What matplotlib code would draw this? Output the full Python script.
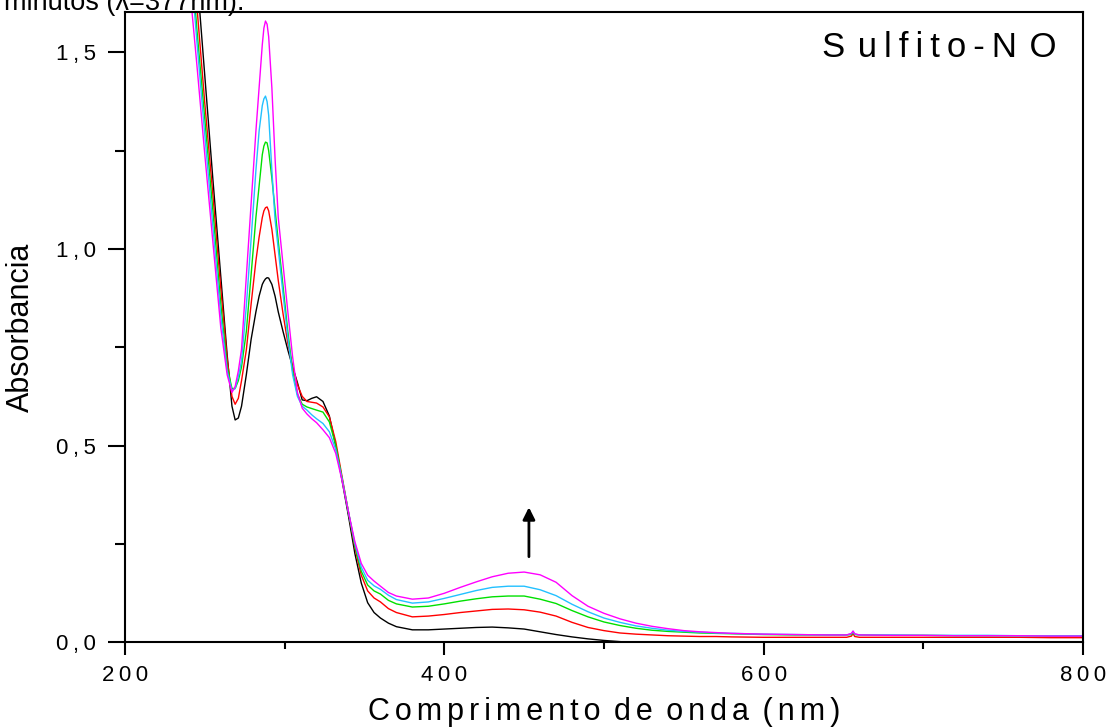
import matplotlib
matplotlib.use("Agg")
import matplotlib.pyplot as plt
import numpy as np

plt.rcParams['font.family'] = ['Liberation Sans', 'DejaVu Sans']

# thin / hair spaces imitate the letter spacing of the original
ts = "\u2009"
hs = "\u200a"

# Wavelength grid (nm)
wavelength = [240, 245, 250, 255, 260, 264, 267, 269, 271, 273,
              276, 279, 282, 284, 286, 287, 288, 289, 290, 292, 294, 296,
              299, 302, 305, 308, 311, 314, 317, 320, 324, 328,
              332, 336, 340, 344, 348, 352, 356, 360, 365, 370,
              380, 390, 400, 410, 420, 430, 440, 450, 460, 470,
              480, 490, 500, 510, 520, 530, 540, 550, 560, 570,
              580, 600, 620, 640, 652, 655, 656, 657, 660, 680,
              700, 720, 740, 760, 780, 800]

abs_black = [1.97, 1.70, 1.44, 1.18, 0.93, 0.73, 0.60, 0.565, 0.57, 0.60,
             0.68, 0.77, 0.84, 0.88, 0.91, 0.918, 0.924, 0.927, 0.926, 0.91, 0.88, 0.84,
             0.79, 0.743, 0.70, 0.66, 0.616, 0.614, 0.62, 0.624, 0.612, 0.575,
             0.50, 0.41, 0.32, 0.225, 0.15, 0.10, 0.075, 0.061, 0.048, 0.039,
             0.031, 0.031, 0.033, 0.035, 0.037, 0.038, 0.036, 0.033, 0.026, 0.019,
             0.013, 0.008, 0.004, 0.001, -0.002, -0.003, -0.003, -0.003, -0.003, -0.003,
             -0.003, -0.003, -0.003, -0.003, -0.003, -0.003, -0.003, -0.003, -0.003, -0.003,
             -0.003, -0.003, -0.003, -0.003, -0.003, -0.003]

abs_red = [1.88, 1.62, 1.37, 1.14, 0.90, 0.72, 0.625, 0.605, 0.62, 0.665,
           0.743, 0.86, 0.97, 1.03, 1.08, 1.097, 1.105, 1.107, 1.097, 1.05, 0.985, 0.92,
           0.835, 0.76, 0.70, 0.655, 0.625, 0.612, 0.61, 0.608, 0.598, 0.573,
           0.51, 0.42, 0.33, 0.24, 0.17, 0.13, 0.112, 0.102, 0.085, 0.075,
           0.064, 0.066, 0.070, 0.075, 0.079, 0.083, 0.084, 0.082, 0.076, 0.066,
           0.050, 0.037, 0.029, 0.023, 0.020, 0.018, 0.016, 0.015, 0.014, 0.014,
           0.013, 0.012, 0.012, 0.012, 0.012, 0.015, 0.022, 0.014, 0.012, 0.012,
           0.012, 0.012, 0.012, 0.012, 0.011, 0.011]

abs_green = [1.82, 1.56, 1.33, 1.10, 0.86, 0.70, 0.645, 0.645, 0.665, 0.70,
             0.79, 0.935, 1.08, 1.16, 1.24, 1.262, 1.272, 1.27, 1.25, 1.18, 1.10, 1.02,
             0.905, 0.79, 0.69, 0.63, 0.605, 0.598, 0.594, 0.59, 0.585, 0.56,
             0.50, 0.415, 0.33, 0.245, 0.18, 0.145, 0.13, 0.122, 0.106, 0.097,
             0.089, 0.091, 0.097, 0.104, 0.110, 0.115, 0.117, 0.117, 0.109, 0.098,
             0.080, 0.064, 0.051, 0.042, 0.035, 0.030, 0.027, 0.025, 0.023, 0.022,
             0.021, 0.019, 0.018, 0.018, 0.018, 0.019, 0.024, 0.019, 0.018, 0.017,
             0.017, 0.016, 0.016, 0.016, 0.015, 0.015]

abs_cyan = [1.78, 1.53, 1.29, 1.06, 0.83, 0.69, 0.64, 0.645, 0.675, 0.715,
            0.855, 1.025, 1.20, 1.30, 1.365, 1.382, 1.389, 1.375, 1.34, 1.20, 1.075, 1.00,
            0.885, 0.775, 0.68, 0.625, 0.60, 0.59, 0.578, 0.568, 0.556, 0.535,
            0.49, 0.415, 0.33, 0.25, 0.19, 0.157, 0.143, 0.134, 0.119, 0.108,
            0.099, 0.102, 0.111, 0.121, 0.131, 0.139, 0.142, 0.142, 0.133, 0.118,
            0.096, 0.077, 0.061, 0.050, 0.041, 0.035, 0.030, 0.027, 0.025, 0.023,
            0.022, 0.020, 0.019, 0.018, 0.018, 0.021, 0.027, 0.020, 0.018, 0.018,
            0.017, 0.017, 0.017, 0.016, 0.016, 0.016]

abs_magenta = [1.69, 1.47, 1.24, 1.02, 0.80, 0.68, 0.635, 0.65, 0.69, 0.745,
               0.93, 1.115, 1.30, 1.41, 1.52, 1.562, 1.58, 1.572, 1.54, 1.41, 1.23, 1.08,
               0.96, 0.84, 0.725, 0.635, 0.595, 0.58, 0.568, 0.558, 0.54, 0.52,
               0.48, 0.41, 0.33, 0.255, 0.20, 0.17, 0.155, 0.142, 0.126, 0.117,
               0.109, 0.112, 0.124, 0.139, 0.153, 0.166, 0.175, 0.178, 0.171, 0.152,
               0.118, 0.091, 0.073, 0.059, 0.048, 0.040, 0.034, 0.029, 0.026, 0.024,
               0.022, 0.020, 0.019, 0.018, 0.018, 0.022, 0.028, 0.021, 0.018, 0.017,
               0.017, 0.016, 0.016, 0.016, 0.015, 0.015]

series = [abs_black, abs_red, abs_green, abs_cyan, abs_magenta]
colors = ["#000000", "#ff0000", "#00e000", "#22c0ff", "#ff00ff"]

x_ticks = [200, 400, 600, 800]
x_labels = [ts.join(str(t)) for t in x_ticks]
y_ticks = [0.0, 0.5, 1.0, 1.5]
y_labels = [ts.join(f"{t:.1f}".replace(".", ",")) for t in y_ticks]

# arrow showing the growth of the band
arrow_x = 453
arrow_y0, arrow_y1 = 0.21, 0.35

fig = plt.figure(figsize=(11.08, 7.27), dpi=100)
ax = fig.add_axes([0.1128, 0.1169, 0.8646, 0.8666])

for y, c in zip(series, colors):
    ax.plot(wavelength, y, color=c, lw=1.0)

ax.set_xlim(200, 800)
ax.set_ylim(0, 1.603)
ax.set_xticks(x_ticks, x_labels)
ax.set_xticks([300, 500, 700], minor=True)
ax.set_yticks(y_ticks, y_labels)
ax.set_yticks([0.25, 0.75, 1.25], minor=True)

for s in ax.spines.values():
    s.set_linewidth(1.5)
ax.tick_params(axis='x', which='major', direction='out', length=9.5, width=1.5, labelsize=16, pad=7)
ax.tick_params(axis='x', which='minor', direction='out', length=5, width=1.5)
ax.tick_params(axis='y', which='major', direction='out', length=12, width=1.5, labelsize=16, pad=9)
ax.tick_params(axis='y', which='minor', direction='out', length=7, width=1.5)

words = ["Comprimento", "de", "onda", "(nm)"]
ax.set_xlabel((" " + hs + hs).join((hs + hs).join(w) for w in words), fontsize=22, labelpad=8)
ax.set_ylabel("Absorbancia", fontsize=22, labelpad=14)

title = "S " + hs + ts.join("ulfito-N") + " " + hs + "O"
ax.text(0.972, 0.944, title, fontsize=25, ha='right', va='center', transform=ax.transAxes)

ax.annotate("", xy=(arrow_x, arrow_y1), xytext=(arrow_x, arrow_y0),
            arrowprops=dict(arrowstyle='-|>', lw=2, color='k', mutation_scale=18))

fig.text(0.004, 1 - 9.5 / 727, "minutos (\u03bb=377nm).", fontsize=19.5, va='baseline', ha='left')

fig.savefig("out.png", dpi=100)
